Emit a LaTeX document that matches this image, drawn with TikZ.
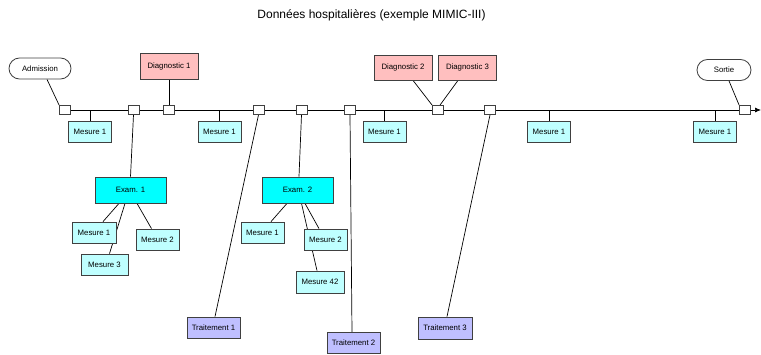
\documentclass[tikz,border=0pt]{standalone}
\usepackage{fontspec}
\setmainfont{Liberation Sans}
\usepackage{tkz-euclide}
\usetikzlibrary{arrows.meta,backgrounds}
\definecolor{diagfond}{HTML}{FFBFBF}
\definecolor{mesurefond}{HTML}{BFFFFF}
\definecolor{examfond}{HTML}{00FFFF}
\definecolor{traitfond}{HTML}{BFBFFF}

\begin{document}
\begin{tikzpicture}[x=1pt, y=1pt,
	boite/.style={draw=black!75, line width=0.8pt, inner sep=0pt, font=\fontsize{7.8}{9}\selectfont},
	evt/.style={boite, rounded corners=10.5pt, fill=white, minimum width=62pt, minimum height=21pt},
	diag/.style={boite, fill=diagfond, minimum width=58pt, minimum height=25pt},
	mesure/.style={boite, fill=mesurefond, minimum width=43pt, minimum height=21pt},
	exam/.style={boite, fill=examfond, minimum width=71pt, minimum height=26pt},
	trait/.style={boite, fill=traitfond, minimum width=53pt, minimum height=21pt},
	jalon/.style={draw=black!75, line width=0.8pt, fill=white, inner sep=0pt, minimum width=11pt, minimum height=9pt},
	lien/.style={line width=0.7pt}]
	\tkzInit [ymin=0,ymax=354,xmin=0,xmax=761]
	\tkzClip
	\node[font=\fontsize{12}{14}\selectfont] (titre) at (371.5,339) {Données hospitalières (exemple MIMIC-III)};
	% jalons sur l'axe du temps
	\foreach \n/\x in {j1/65, j2/133.5, j3/169, j4/258.5, j5/301.5, j6/350, j7/438, j8/490, j9/745}
		\node[jalon] (\n) at (\x,244) {};
	\tkzDefPoint(761,244){fin}
	\node[evt] (adm) at (40,285.5) {Admission};
	\node[evt, minimum width=54pt] (sortie) at (724,284) {Sortie};
	\node[diag, minimum height=26pt] (d1) at (169,288) {Diagnostic 1};
	\node[diag] (d2) at (403,286.5) {Diagnostic 2};
	\node[diag] (d3) at (467.5,286.5) {Diagnostic 3};
	\node[mesure] (m1) at (90,222.5) {Mesure 1};
	\node[mesure] (m2) at (219.5,222.5) {Mesure 1};
	\node[mesure] (m3) at (384.5,222.5) {Mesure 1};
	\node[mesure] (m4) at (549,222.5) {Mesure 1};
	\node[mesure] (m5) at (715,222.5) {Mesure 1};
	\node[exam] (e1) at (130.5,164) {Exam. 1};
	\node[mesure, minimum width=44pt] (e1a) at (94,121.5) {Mesure 1};
	\node[mesure] (e1b) at (157.5,114.5) {Mesure 2};
	\node[mesure, minimum width=47pt] (e1c) at (104.5,89.5) {Mesure 3};
	\node[exam] (e2) at (297.5,164) {Exam. 2};
	\node[mesure] (e2a) at (262.5,121.5) {Mesure 1};
	\node[mesure] (e2b) at (325.5,114.5) {Mesure 2};
	\node[mesure, minimum width=48pt, minimum height=22pt] (e2c) at (320,72) {Mesure 42};
	\node[trait] (t1) at (213.5,26.5) {Traitement 1};
	\node[trait] (t2) at (353.5,11) {Traitement 2};
	\node[trait, minimum width=54pt, minimum height=22pt] (t3) at (445,26) {Traitement 3};
	\begin{pgfonlayer}{background}
		\draw[lien, -{Latex[length=6pt,width=5pt]}] (j1.center) -- (fin);
		\draw[lien] ([xshift=7pt]adm.south) -- (j1.north west);
		\draw[lien] ([xshift=5pt]sortie.south) -- (j9.north west);
		\draw[lien] (d1.south) -- (j3.north);
		\draw[lien] ([xshift=10pt]d2.south) -- (j7.north west);
		\draw[lien] ([xshift=-9.5pt]d3.south) -- ([xshift=2pt]j7.north);
		\foreach \m in {m1,m2,m3,m4,m5}
			\draw[lien] (\m.north) -- (\m.north |- j1.center);
		% examens
		\draw[lien] (j2.south) -- (e1.north);
		\draw[lien] ([xshift=-11.5pt]e1.south) -- ([xshift=9pt]e1a.north);
		\draw[lien] ([xshift=-5.5pt]e1.south) -- ([xshift=5pt]e1c.north);
		\draw[lien] ([xshift=6.5pt]e1.south) -- ([xshift=-6pt]e1b.north);
		\draw[lien] (j5.south) -- ([xshift=1.5pt]e2.north);
		\draw[lien] ([xshift=-10.5pt]e2.south) -- ([xshift=8.5pt]e2a.north);
		\draw[lien] ([xshift=4pt]e2.south) -- ([xshift=-3pt]e2c.north);
		\draw[lien] ([xshift=7.5pt]e2.south) -- ([xshift=-6.5pt]e2b.north);
		% traitements
		\draw[lien] (j4.south) -- ([xshift=1.5pt]t1.north);
		\draw[lien] (j6.south) -- ([xshift=-1.5pt]t2.north);
		\draw[lien] (j8.south) -- ([xshift=2pt]t3.north);
	\end{pgfonlayer}
\end{tikzpicture}
\end{document}
